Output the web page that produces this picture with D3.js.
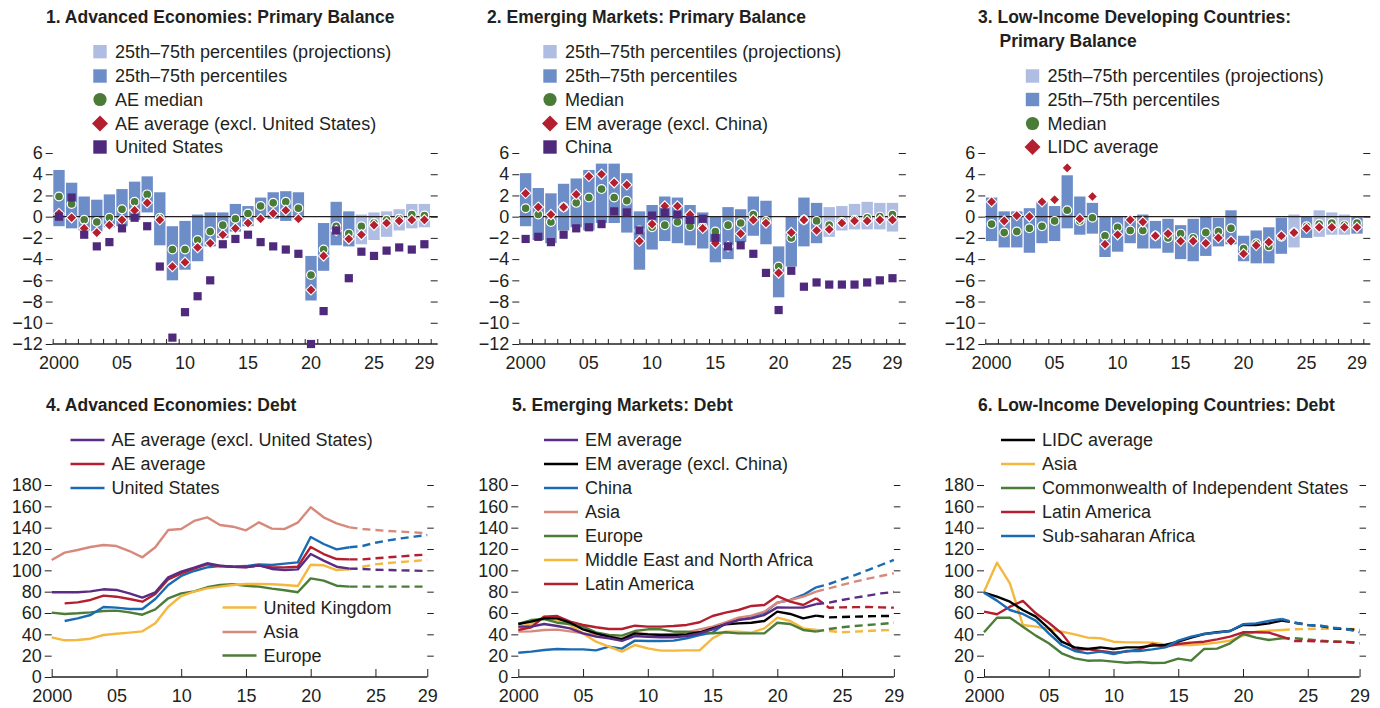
<!DOCTYPE html>
<html>
<head>
<meta charset="utf-8">
<script src="https://cdn.jsdelivr.net/npm/d3@7"></script>
<style>
  body { margin: 0; background: #fff; }
  svg text { font-family: "Liberation Sans", Arial, sans-serif; fill: #231f20; font-size: 18px; }
  svg text.title { font-weight: bold; font-size: 17.5px; }
</style>
</head>
<body>
<svg id="svg" width="1380" height="708"></svg>
<script>
// ---- data ----
const years = [2000, 2001, 2002, 2003, 2004, 2005, 2006, 2007, 2008, 2009,
  2010, 2011, 2012, 2013, 2014, 2015, 2016, 2017, 2018, 2019,
  2020, 2021, 2022, 2023, 2024, 2025, 2026, 2027, 2028, 2029];
const labelYears = [2000, 2005, 2010, 2015, 2020, 2025, 2029];
const pbTicks = [-12, -10, -8, -6, -4, -2, 0, 2, 4, 6];
const debtTicks = [0, 20, 40, 60, 80, 100, 120, 140, 160, 180];

// 1. Advanced economies: primary balance
const ae_p75 = [4.4, 3.2, 1.9, 1.6, 2.1, 2.6, 3.3, 3.8, 2.3, -0.9, -0.4, 0.2, 0.4, 0.4, 1.2, 1.0, 1.8, 2.3, 2.4, 2.3, -3.7, -0.6, 1.4, 0.5, 0.2, 0.4, 0.5, 0.7, 1.2, 1.2];
const ae_p25 = [-0.9, -1.1, -1.3, -1.4, -1.0, -0.9, -0.3, 0.4, -2.7, -6.0, -5.0, -4.2, -2.8, -2.0, -1.4, -0.9, -0.1, -0.2, -0.4, -0.3, -7.9, -5.1, -2.7, -2.8, -2.6, -2.2, -1.9, -1.3, -1.1, -1.0];
const ae_median = [1.9, 1.2, -0.3, -0.5, -0.1, 0.7, 1.4, 2.1, -0.1, -3.1, -3.1, -2.2, -1.4, -0.8, -0.2, 0.3, 1.0, 1.3, 1.4, 0.8, -5.5, -3.1, -0.9, -1.6, -0.9, -0.6, -0.3, -0.2, 0.2, 0.1];
const ae_avg = [0.3, -0.1, -1.1, -1.5, -0.8, -0.3, 0.6, 1.3, -0.3, -4.7, -4.3, -2.9, -2.5, -1.7, -1.1, -0.6, -0.2, 0.3, 0.6, -0.2, -6.9, -3.7, -1.3, -2.1, -1.7, -0.8, -0.6, -0.4, -0.3, -0.3];
const us_pb = [0.0, 1.8, -1.7, -2.8, -2.4, -1.1, -0.1, -0.9, -4.7, -11.4, -9.0, -7.5, -6.0, -2.6, -2.1, -1.7, -2.4, -2.8, -3.1, -3.5, -12.0, -8.9, -1.3, -5.8, -3.3, -3.7, -3.2, -2.9, -3.1, -2.6];
const ae_projYears = [2024, 2025, 2026, 2027, 2028, 2029];

// 2. Emerging markets: primary balance
const em_p75 = [4.1, 2.7, 2.2, 3.1, 3.6, 4.4, 5.0, 5.0, 4.1, 0.5, 1.1, 1.9, 1.8, 1.1, 0.4, 0.0, 0.9, 0.7, 1.9, 1.5, -2.8, 0.0, 1.8, 1.3, 0.9, 1.0, 1.2, 1.4, 1.3, 1.3];
const em_p25 = [-0.9, -2.2, -2.5, -1.3, -1.0, -1.3, -0.6, -0.6, -1.5, -5.0, -3.1, -2.3, -2.5, -2.7, -3.0, -4.3, -4.0, -2.4, -1.8, -2.6, -7.6, -4.7, -2.8, -2.5, -1.9, -1.3, -1.2, -1.2, -1.2, -1.4];
const em_median = [0.8, 0.2, -0.5, 0.9, 1.3, 1.8, 2.6, 1.8, 1.5, -1.3, -1.0, -0.8, -0.5, -0.9, -1.0, -1.4, -0.8, -0.6, 0.2, -0.4, -4.7, -2.0, -0.3, -0.4, -0.8, -0.5, -0.3, -0.1, 0.0, 0.2];
const em_avg = [2.2, 0.9, 0.2, 0.9, 2.1, 3.8, 4.0, 3.2, 3.0, -2.3, -0.7, 1.0, 1.0, 0.2, -1.1, -2.5, -2.8, -1.6, -0.3, -0.6, -5.3, -1.5, -0.3, -1.3, -1.2, -0.6, -0.4, -0.4, -0.3, -0.3];
const china_pb = [-2.1, -1.9, -2.4, -1.7, -1.1, -1.0, -0.7, 0.5, 0.4, -1.3, 0.1, 0.4, 0.2, -0.3, -0.2, -2.0, -2.8, -2.7, -3.5, -5.3, -8.8, -5.1, -6.6, -6.2, -6.4, -6.4, -6.4, -6.2, -6.0, -5.8];
const em_projYears = [2024, 2025, 2026, 2027, 2028, 2029];

// 3. Low-income developing countries: primary balance
const lidc_p75 = [1.8, 0.5, 0.5, 0.8, 1.4, 1.0, 3.9, 1.9, 1.3, 0.0, 0.0, 0.0, 0.2, -0.4, -0.2, -0.8, -0.2, 0.0, -0.1, 0.6, -1.8, -1.3, -1.0, -0.1, 0.2, 0.0, 0.6, 0.4, 0.2, 0.0];
const lidc_p25 = [-2.3, -2.9, -2.9, -3.4, -2.5, -2.3, -1.1, -1.7, -1.6, -3.8, -3.3, -2.5, -3.0, -3.0, -3.4, -4.0, -4.2, -3.7, -2.8, -2.6, -4.2, -4.4, -4.4, -3.5, -2.9, -2.0, -1.9, -1.7, -1.7, -1.6];
const lidc_median = [-0.7, -1.5, -1.4, -1.1, -0.9, -0.4, 0.6, -0.4, -0.1, -1.8, -1.0, -1.3, -1.3, -1.8, -2.0, -1.6, -2.0, -1.5, -1.4, -1.1, -3.0, -2.5, -2.8, -1.9, -1.5, -0.9, -0.7, -0.6, -0.8, -0.6];
const lidc_avg = [1.4, -0.4, 0.1, 0.0, 1.4, 1.6, 4.6, -0.2, 1.9, -2.6, -1.7, -0.3, -0.5, -1.8, -1.6, -2.3, -2.3, -2.5, -2.0, -2.3, -3.5, -2.7, -2.4, -1.8, -1.5, -1.1, -1.0, -1.0, -1.0, -1.0];
const lidc_projYears = [2024, 2026, 2027, 2028];

// 4. Advanced economies: debt
const ae_exus_debt = [79.4, 79.4, 79.4, 80.3, 82.2, 81.6, 78.4, 74.4, 79.4, 93.4, 98.8, 102.5, 106.6, 104.4, 103.4, 102.8, 104.7, 101.3, 100.3, 100.9, 115.3, 109.1, 103.4, 101.6, 101.3, 100.6, 100.3, 100.0, 99.7, 99.4];
const ae_avg_debt = [null, 69.0, 70.0, 72.2, 76.3, 75.3, 73.1, 70.6, 77.8, 91.6, 97.2, 101.6, 105.6, 104.0, 103.4, 103.1, 104.4, 102.8, 102.8, 103.4, 121.9, 115.3, 110.6, 110.3, 110.3, 111.3, 112.2, 113.1, 114.1, 114.7];
const us_debt = [null, 52.5, 55.0, 58.1, 65.6, 65.0, 63.8, 63.8, 73.1, 86.3, 94.7, 99.4, 102.8, 104.0, 103.4, 104.0, 105.6, 105.0, 106.3, 107.5, 131.3, 124.7, 119.7, 121.6, 122.8, 125.9, 128.1, 130.0, 131.6, 133.1];
const uk_debt = [37.2, 34.4, 34.7, 35.9, 39.4, 40.6, 41.6, 42.8, 50.3, 65.9, 75.9, 80.0, 83.1, 84.7, 86.3, 87.2, 87.2, 86.9, 86.3, 85.3, 105.3, 104.7, 100.3, 100.9, 103.4, 105.6, 106.9, 107.8, 108.8, 109.7];
const aeasia_debt = [109.7, 116.6, 119.1, 121.9, 123.8, 122.8, 118.1, 112.2, 121.6, 137.8, 138.8, 146.3, 149.7, 142.5, 140.9, 137.5, 145.0, 139.1, 138.8, 144.7, 159.1, 149.7, 144.1, 140.3, 138.8, 137.8, 136.9, 136.3, 135.6, 134.7];
const aeeur_debt = [60.3, 59.1, 59.7, 60.6, 61.9, 62.2, 60.6, 58.4, 63.4, 73.8, 78.4, 80.3, 84.1, 86.3, 86.9, 85.6, 84.7, 82.8, 81.3, 79.4, 92.5, 90.3, 85.6, 84.7, 84.7, 84.7, 84.7, 84.7, 84.7, 84.7];

// 5. Emerging markets: debt
const em_avg_debt = [47.2, 47.2, 49.7, 47.8, 45.6, 40.9, 37.8, 36.3, 33.8, 38.4, 37.8, 37.2, 37.2, 38.4, 40.9, 44.7, 49.7, 53.4, 55.0, 58.1, 65.3, 65.0, 65.0, 68.4, 69.7, 72.2, 74.4, 76.3, 78.4, 79.7];
const em_exch_debt = [49.7, 51.9, 55.0, 55.0, 50.9, 44.7, 40.9, 37.8, 35.3, 40.9, 40.0, 39.4, 39.4, 40.0, 41.9, 45.6, 49.4, 50.3, 50.9, 52.5, 61.3, 59.1, 55.0, 57.5, 55.9, 56.3, 56.6, 56.9, 57.2, 57.2];
const china_debt = [22.8, 23.8, 25.3, 26.3, 25.9, 25.9, 25.0, 28.4, 26.6, 34.1, 33.8, 33.8, 34.1, 36.3, 39.4, 41.6, 50.3, 55.0, 56.6, 60.3, 69.7, 72.2, 76.9, 84.1, 87.2, 91.6, 95.6, 100.3, 105.0, 109.7];
const emasia_debt = [42.5, 42.8, 44.1, 44.4, 42.8, 40.9, 39.4, 37.8, 36.3, 40.9, 40.3, 40.0, 40.3, 41.9, 44.7, 47.2, 51.3, 55.6, 57.5, 61.3, 69.7, 72.2, 75.3, 80.0, 83.1, 86.3, 89.4, 92.2, 94.7, 97.2];
const emeur_debt = [49.7, 53.4, 54.4, 50.9, 49.7, 47.2, 41.9, 39.4, 38.8, 43.1, 44.7, 44.7, 42.5, 42.5, 41.6, 40.9, 41.9, 40.9, 40.9, 40.9, 50.9, 49.7, 44.1, 42.5, 45.0, 46.6, 47.8, 48.8, 49.7, 50.9];
const mena_debt = [46.6, 49.7, 56.6, 53.4, 48.8, 40.9, 33.1, 28.4, 23.8, 30.0, 26.9, 24.7, 24.7, 25.0, 25.0, 36.3, 42.5, 42.5, 41.6, 45.6, 55.6, 52.5, 45.6, 44.1, 43.1, 41.9, 42.5, 43.1, 43.8, 44.1];
const emlat_debt = [44.1, 46.6, 56.6, 57.2, 51.9, 48.8, 46.6, 45.0, 45.0, 48.1, 47.2, 47.2, 47.8, 48.8, 51.3, 57.2, 60.3, 62.8, 66.6, 67.5, 75.9, 70.6, 67.5, 73.8, 65.0, 65.3, 65.5, 65.6, 65.3, 65.0];

// 6. Low-income developing countries: debt
const lidc_debt = [79.1, 75.3, 70.6, 62.8, 56.6, 45.6, 33.1, 27.8, 26.3, 27.8, 26.3, 27.8, 27.8, 29.4, 30.0, 33.1, 36.9, 40.3, 41.9, 43.1, 48.8, 48.8, 50.3, 52.8, 50.9, 48.8, 47.8, 45.6, 44.7, 44.1];
const lasia_debt = [80.0, 107.2, 87.8, 48.8, 47.2, 45.0, 42.5, 40.0, 36.9, 36.3, 33.1, 32.5, 32.5, 32.2, 30.6, 30.0, 30.0, 30.9, 32.2, 34.1, 38.8, 42.5, 43.4, 44.1, 44.7, 45.0, 45.3, 45.3, 45.0, 44.7];
const cis_debt = [41.9, 55.6, 55.6, 47.2, 38.8, 31.6, 22.2, 17.5, 15.3, 15.6, 14.4, 13.4, 14.1, 13.1, 13.4, 17.2, 15.3, 26.3, 26.6, 31.6, 40.3, 36.9, 34.7, 36.3, 36.3, 35.3, 34.1, 33.4, 32.8, 32.2];
const llat_debt = [61.3, 58.8, 65.9, 71.3, 59.7, 50.9, 40.9, 25.3, 26.3, 24.4, 22.8, 23.8, 25.9, 30.9, 28.4, 30.9, 32.2, 33.1, 35.3, 37.8, 41.9, 41.9, 41.6, 37.8, 33.8, 33.8, 33.4, 33.1, 32.8, 31.6];
const ssa_debt = [79.1, 71.6, 62.8, 59.1, 52.8, 40.9, 30.0, 24.4, 22.2, 23.8, 21.6, 24.4, 24.4, 25.9, 27.8, 34.1, 37.8, 40.3, 41.6, 43.1, 49.4, 50.3, 52.5, 54.4, 50.9, 48.8, 48.1, 46.3, 45.0, 41.9];
const debtProjFrom = 2023;

// ---- styles ----
const INK = '#231f20';
const C = {
  proj: '#afbde2', band: '#6c8dc8', median: '#4a7b37', avg: '#b31f2e', sq: '#4f2a7c',
  purple: '#5b2c84', red: '#b31f2e', blue: '#1b6bb3', yellow: '#f4b83f',
  salmon: '#d78a7c', green: '#4b7d38', black: '#000000'
};

const svg = d3.select('#svg');
const fmt = d => d < 0 ? '\u2212' + Math.abs(d) : String(d);
const yrLabel = d => d === 2000 ? '2000' : String(d % 100).padStart(2, '0');
const diamond = s => `M0,${-s}L${s},0L0,${s}L${-s},0Z`;

function styleAxis(sel) {
  sel.attr('font-family', null).attr('font-size', null);
  sel.select('.domain').remove();
  sel.selectAll('line').attr('stroke', INK);
  sel.selectAll('text').attr('fill', null);
}

function legendMarker(g, type, cx, cy) {
  if (type === 'proj' || type === 'band' || type === 'square')
    g.append('rect').attr('x', cx - 6.7).attr('y', cy - 6.7).attr('width', 13.4).attr('height', 13.4)
      .attr('fill', type === 'proj' ? C.proj : type === 'band' ? C.band : C.sq);
  else if (type === 'circle')
    g.append('circle').attr('cx', cx).attr('cy', cy).attr('r', 6.6).attr('fill', C.median);
  else if (type === 'diamond')
    g.append('path').attr('d', diamond(8)).attr('transform', `translate(${cx},${cy})`).attr('fill', C.avg);
}

// bar panels (primary balance)
function barPanel(p) {
  const g = svg.append('g');
  const xEnd = p.x0 + years.length * p.step;
  const x = d3.scaleBand().domain(years).range([p.x0, xEnd]).paddingInner(0.1).paddingOuter(0.05);
  const xe = d3.scaleLinear().domain([years[0], years[years.length - 1] + 1]).range([p.x0, xEnd]);
  const y = d3.scaleLinear().domain([-12, 6]).range([344, 153]);
  const cx = d => x(d) + x.bandwidth() / 2;

  p.title.forEach((t, i) => g.append('text').attr('class', 'title')
    .attr('x', i ? p.titleX2 : p.titleX).attr('y', 23 + i * 23.5).text(t));

  p.legend.forEach((L, i) => {
    const cy = p.legY[i];
    legendMarker(g, L.type, p.legX, cy);
    g.append('text').attr('x', p.legX + 15).attr('y', cy + 6.4).text(L.label);
  });

  g.append('g').attr('transform', `translate(${p.x0},0)`)
    .call(d3.axisLeft(y).tickValues(pbTicks).tickSize(7).tickPadding(3).tickFormat(fmt))
    .call(styleAxis);
  g.append('g').attr('transform', `translate(${xEnd},0)`)
    .call(d3.axisRight(y).tickValues(pbTicks.slice(1)).tickSize(7).tickFormat(''))
    .call(styleAxis);

  g.append('g').selectAll('rect').data(years).join('rect')
    .attr('x', d => x(d)).attr('width', x.bandwidth())
    .attr('y', (d, i) => y(p.p75[i]))
    .attr('height', (d, i) => y(p.p25[i]) - y(p.p75[i]))
    .attr('fill', d => p.proj.includes(d) ? C.proj : C.band);

  g.append('line').attr('x1', p.x0).attr('x2', xEnd + 7).attr('y1', y(0)).attr('y2', y(0))
    .attr('stroke', INK).attr('stroke-width', 1.3);

  // bottom axis
  g.append('line').attr('x1', p.x0).attr('x2', xEnd + 7).attr('y1', y(-12)).attr('y2', y(-12))
    .attr('stroke', INK).attr('stroke-width', 1.3);
  g.append('g').attr('transform', `translate(0,${y(-12)})`)
    .call(d3.axisBottom(xe).tickValues(xe.ticks(31)).tickSize(-5).tickFormat(''))
    .call(styleAxis);
  g.append('g').attr('transform', `translate(0,${y(-12)})`)
    .call(d3.axisBottom(x).tickValues(labelYears).tickSize(0).tickPadding(12).tickFormat(yrLabel))
    .call(styleAxis);

  g.append('g').selectAll('circle').data(years).join('circle')
    .attr('cx', cx).attr('cy', (d, i) => y(p.med[i])).attr('r', 4.4)
    .attr('fill', C.median).attr('stroke', '#fff').attr('stroke-width', 1.2);
  g.append('g').selectAll('path').data(years).join('path')
    .attr('d', diamond(5.2)).attr('transform', (d, i) => `translate(${cx(d)},${y(p.avg[i])})`)
    .attr('fill', C.avg).attr('stroke', '#fff').attr('stroke-width', 1.1);
  if (p.sq) {
    g.append('g').selectAll('rect').data(years).join('rect')
      .attr('x', d => cx(d) - 4.1).attr('y', (d, i) => y(p.sq[i]) - 4.1)
      .attr('width', 8.2).attr('height', 8.2).attr('fill', C.sq);
  }
}

// line panels (debt)
function linePanel(p) {
  const g = svg.append('g');
  const x = d3.scaleLinear().domain([years[0], years[years.length - 1]]).range([p.x0, p.x0 + 29 * 12.95]);
  const xEnd = x.range()[1];
  const y = d3.scaleLinear().domain([0, 180]).range([677, 485]);

  g.append('text').attr('class', 'title').attr('x', p.titleX).attr('y', 411).text(p.title);

  g.append('g').attr('transform', `translate(${p.x0},0)`)
    .call(d3.axisLeft(y).tickValues(debtTicks).tickSize(7).tickPadding(3))
    .call(styleAxis);
  g.append('g').attr('transform', `translate(${xEnd},0)`)
    .call(d3.axisRight(y).tickValues(debtTicks.slice(1)).tickSize(6.5).tickFormat(''))
    .call(styleAxis);
  g.append('line').attr('x1', p.x0).attr('x2', xEnd).attr('y1', y(0)).attr('y2', y(0))
    .attr('stroke', INK).attr('stroke-width', 1.3);
  g.append('g').attr('transform', `translate(0,${y(0)})`)
    .call(d3.axisBottom(x).tickValues(labelYears).tickSize(-8).tickPadding(12).tickFormat(yrLabel))
    .call(styleAxis);

  const line = d3.line().defined(d => d.v != null).x(d => x(d.yr)).y(d => y(d.v));
  p.draw.forEach(s => {
    const pts = years.map((yr, i) => ({yr, v: s.values[i]}));
    g.append('path').datum(pts.filter(d => d.yr <= debtProjFrom)).attr('d', line)
      .attr('fill', 'none').attr('stroke', s.color).attr('stroke-width', 2.4).attr('stroke-linejoin', 'round');
    g.append('path').datum(pts.filter(d => d.yr >= debtProjFrom)).attr('d', line)
      .attr('fill', 'none').attr('stroke', s.color).attr('stroke-width', 2.4).attr('stroke-dasharray', '8,5');
  });

  p.legends.forEach(L => {
    L.items.forEach((s, i) => {
      const cy = L.y[i];
      g.append('line').attr('x1', L.x).attr('x2', L.x + 34).attr('y1', cy).attr('y2', cy)
        .attr('stroke', s.color).attr('stroke-width', 2.6);
      g.append('text').attr('x', L.x + 41).attr('y', cy + 6.4).text(s.name);
    });
  });
}

// ---- panels ----
const pbLegendRows = [51.7, 76, 99.5, 123.5, 147];
barPanel({
  x0: 52.7, step: 12.6, title: ['1. Advanced Economies: Primary Balance'], titleX: 46,
  p75: ae_p75, p25: ae_p25, med: ae_median, avg: ae_avg, sq: us_pb, proj: ae_projYears,
  legX: 100, legY: pbLegendRows,
  legend: [
    {type: 'proj', label: '25th\u201375th percentiles (projections)'},
    {type: 'band', label: '25th\u201375th percentiles'},
    {type: 'circle', label: 'AE median'},
    {type: 'diamond', label: 'AE average (excl. United States)'},
    {type: 'square', label: 'United States'}
  ]
});
barPanel({
  x0: 519.3, step: 12.65, title: ['2. Emerging Markets: Primary Balance'], titleX: 487,
  p75: em_p75, p25: em_p25, med: em_median, avg: em_avg, sq: china_pb, proj: em_projYears,
  legX: 550, legY: pbLegendRows,
  legend: [
    {type: 'proj', label: '25th\u201375th percentiles (projections)'},
    {type: 'band', label: '25th\u201375th percentiles'},
    {type: 'circle', label: 'Median'},
    {type: 'diamond', label: 'EM average (excl. China)'},
    {type: 'square', label: 'China'}
  ]
});
barPanel({
  x0: 985.3, step: 12.6, title: ['3. Low-Income Developing Countries:', 'Primary Balance'],
  titleX: 978, titleX2: 999.5,
  p75: lidc_p75, p25: lidc_p25, med: lidc_median, avg: lidc_avg, sq: null, proj: lidc_projYears,
  legX: 1032.5, legY: pbLegendRows.slice(1),
  legend: [
    {type: 'proj', label: '25th\u201375th percentiles (projections)'},
    {type: 'band', label: '25th\u201375th percentiles'},
    {type: 'circle', label: 'Median'},
    {type: 'diamond', label: 'LIDC average'}
  ]
});

const dRows = [440, 464, 488, 512, 536, 560, 584];
{
  const exus = {name: 'AE average (excl. United States)', values: ae_exus_debt, color: C.purple};
  const avg = {name: 'AE average', values: ae_avg_debt, color: C.red};
  const us = {name: 'United States', values: us_debt, color: C.blue};
  const uk = {name: 'United Kingdom', values: uk_debt, color: C.yellow};
  const asia = {name: 'Asia', values: aeasia_debt, color: C.salmon};
  const eur = {name: 'Europe', values: aeeur_debt, color: C.green};
  linePanel({
    x0: 51.7, title: '4. Advanced Economies: Debt', titleX: 46,
    draw: [asia, eur, uk, us, avg, exus],
    legends: [
      {x: 70.5, y: dRows.slice(0, 3), items: [exus, avg, us]},
      {x: 222.5, y: [607.5, 632, 655.5], items: [uk, asia, eur]}
    ]
  });
}
{
  const em = {name: 'EM average', values: em_avg_debt, color: C.purple};
  const exch = {name: 'EM average (excl. China)', values: em_exch_debt, color: C.black};
  const ch = {name: 'China', values: china_debt, color: C.blue};
  const asia = {name: 'Asia', values: emasia_debt, color: C.salmon};
  const eur = {name: 'Europe', values: emeur_debt, color: C.green};
  const mena = {name: 'Middle East and North Africa', values: mena_debt, color: C.yellow};
  const lat = {name: 'Latin America', values: emlat_debt, color: C.red};
  linePanel({
    x0: 518.3, title: '5. Emerging Markets: Debt', titleX: 512,
    draw: [ch, asia, mena, eur, lat, exch, em],
    legends: [{x: 544, y: dRows, items: [em, exch, ch, asia, eur, mena, lat]}]
  });
}
{
  const lidc = {name: 'LIDC average', values: lidc_debt, color: C.black};
  const asia = {name: 'Asia', values: lasia_debt, color: C.yellow};
  const cis = {name: 'Commonwealth of Independent States', values: cis_debt, color: C.green};
  const lat = {name: 'Latin America', values: llat_debt, color: C.red};
  const ssa = {name: 'Sub-saharan Africa', values: ssa_debt, color: C.blue};
  linePanel({
    x0: 984, title: '6. Low-Income Developing Countries: Debt', titleX: 978,
    draw: [asia, cis, lat, lidc, ssa],
    legends: [{x: 1001, y: dRows.slice(0, 5), items: [lidc, asia, cis, lat, ssa]}]
  });
}
</script>
</body>
</html>
